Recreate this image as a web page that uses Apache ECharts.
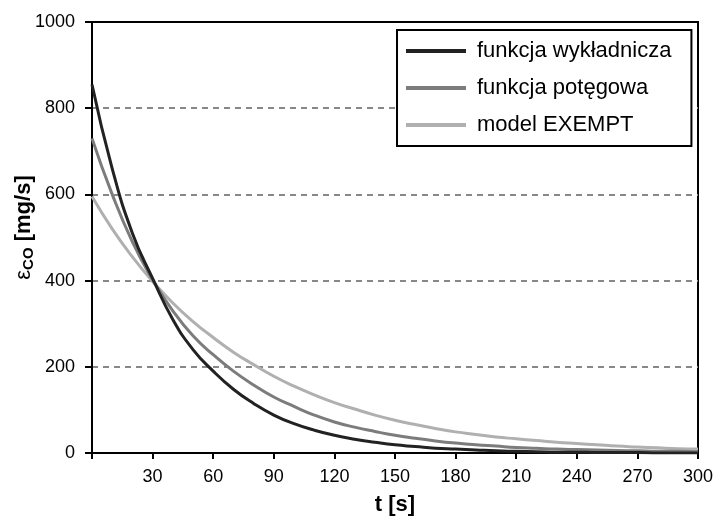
<!DOCTYPE html>
<html><head><meta charset="utf-8">
<script src="https://cdn.jsdelivr.net/npm/echarts@6/dist/echarts.min.js"></script>
<style>html,body{margin:0;padding:0;background:#fff}#c{width:717px;height:519px}</style>
</head><body><div id="c"></div>
<script>
var times = [0,10,20,30,40,50,60,70,80,90,100,110,120,130,140,150,160,170,180,190,200,210,220,230,240,250,260,270,280,290,300];
var wykladnicza = [855,660,510,405,310,240,190,148,115,88,68,53,41,32,25,19,15,11,9,7,5,4,3,2,2,1,1,1,0,0,0];
var potegowa = [730,600,490,402,330,272,228,190,158,130,108,88,72,60,50,41,34,28,23,19,16,13,11,9,8,7,6,5,4,4,3];
var exempt = [595,520,455,398,348,305,268,234,205,178,155,135,117,102,88,76,66,57,49,43,37,33,29,25,22,19,16,14,12,10,9];
var seriesNames = ['funkcja wykładnicza','funkcja potęgowa','model EXEMPT'];
var colors = ['#222222','#7c7c7c','#b0b0b0'];
var xTicks = [30,60,90,120,150,180,210,240,270,300];
var yTicks = [0,200,400,600,800,1000];

function pairs(v){ return times.map(function(t,i){return [t,v[i]];}); }
var font = 'Liberation Sans, Arial, sans-serif';
var chart = echarts.init(document.getElementById('c'));
chart.setOption({
  animation:false,
  backgroundColor:'#fff',
  textStyle:{fontFamily:font},
  grid:{left:92,right:19,top:22,bottom:66,outerBoundsMode:'none',containLabel:false,show:true,borderColor:'#000',borderWidth:2,backgroundColor:'transparent'},
  legend:{
    orient:'vertical',left:397,top:30,
    data:seriesNames,
    icon:'rect',itemWidth:60,itemHeight:4,itemGap:15,
    borderColor:'#000',borderWidth:2,padding:[10,20,10,9],
    backgroundColor:'#fff',
    textStyle:{fontSize:22,color:'#000',fontFamily:font,padding:[0,0,0,6]}
  },
  xAxis:{
    type:'value',min:0,max:300,interval:30,
    name:'t [s]',nameLocation:'middle',nameGap:41,nameMoveOverlap:false,
    nameTextStyle:{fontSize:22,fontWeight:'bold',color:'#000',fontFamily:font},
    axisLine:{lineStyle:{color:'#000',width:2}},
    axisTick:{show:true,length:6,lineStyle:{color:'#000',width:2}},
    axisLabel:{fontSize:18,color:'#000',margin:15,formatter:function(v){return xTicks.indexOf(v)>=0?String(v):'';}},
    splitLine:{show:false}
  },
  yAxis:{
    type:'value',min:0,max:1000,interval:200,
    name:'{e|ε}{s|CO}{b| [mg/s]}',nameLocation:'middle',nameGap:56,nameRotate:90,nameMoveOverlap:false,
    nameTextStyle:{color:'#000',fontFamily:font,padding:[0,0,0,20],rich:{
      e:{fontSize:22,color:'#000',fontFamily:font},
      s:{fontSize:15,fontWeight:'bold',color:'#000',fontFamily:font,verticalAlign:'bottom',padding:[9,0,0,0]},
      b:{fontSize:22,fontWeight:'bold',color:'#000',fontFamily:font}
    }},
    axisLine:{show:true,lineStyle:{color:'#000',width:2}},
    axisTick:{show:true,length:7,lineStyle:{color:'#000',width:2}},
    axisLabel:{fontSize:18,color:'#000',margin:17,formatter:function(v){return yTicks.indexOf(v)>=0?String(v):'';}},
    splitLine:{show:true,lineStyle:{color:['#888','#888','#888','#888','#888','rgba(0,0,0,0)'],type:[6,5],width:2}}
  },
  series:[
    {name:seriesNames[2],type:'line',data:pairs(exempt),smooth:true,showSymbol:false,symbol:'none',lineStyle:{color:colors[2],width:3},itemStyle:{color:colors[2]},z:2},
    {name:seriesNames[1],type:'line',data:pairs(potegowa),smooth:true,showSymbol:false,symbol:'none',lineStyle:{color:colors[1],width:3},itemStyle:{color:colors[1]},z:3},
    {name:seriesNames[0],type:'line',data:pairs(wykladnicza),smooth:true,showSymbol:false,symbol:'none',lineStyle:{color:colors[0],width:3},itemStyle:{color:colors[0]},z:4}
  ]
});
</script></body></html>
